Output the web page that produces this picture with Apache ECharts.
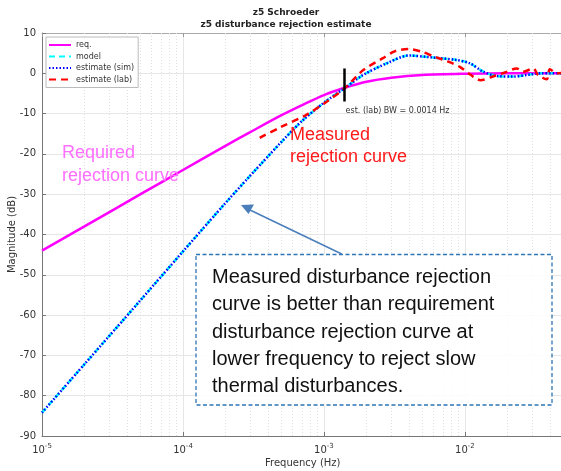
<!DOCTYPE html>
<html>
<head>
<meta charset="utf-8">
<script src="https://cdn.jsdelivr.net/npm/echarts@6/dist/echarts.min.js"></script>
<style>
html,body{margin:0;padding:0;background:#fff;}
#c{width:561px;height:471px;}
</style>
</head>
<body>
<div id="c"></div>
<script>
// ---- data ----
const freqReq = [1e-5, 2e-5, 5e-5, 1e-4, 2e-4, 3e-4, 5e-4, 7e-4, 1e-3, 1.4e-3, 2e-3, 3e-3, 5e-3, 1e-2, 2e-2, 5e-2];
const magReq  = [-44.0, -38.0, -30.0, -24.0, -18.0, -14.6, -10.4, -7.9, -5.4, -3.6, -2.1, -1.1, -0.4, -0.1, 0, 0];

const freqModel = [1e-5, 2e-5, 5e-5, 1e-4, 2e-4, 3e-4, 5e-4, 7e-4, 1e-3, 1.4e-3, 1.9e-3, 2.8e-3, 4e-3, 5.6e-3, 8.7e-3, 1.08e-2, 1.35e-2, 1.7e-2, 2.2e-2, 2.9e-2, 3.5e-2, 5e-2];
const magModel  = [-84.2, -72.2, -56.3, -44.2, -32.2, -25.4, -17.0, -11.8, -7.3, -3.7, -0.4, 2.5, 4.4, 4.0, 3.3, 2.5, 0.4, -0.7, -0.8, -0.3, 0, 0];

const freqSim = [1e-5, 2e-5, 5e-5, 1e-4, 2e-4, 3e-4, 5e-4, 7e-4, 1e-3, 1.4e-3, 1.9e-3, 2.8e-3, 4e-3, 5.6e-3, 8.7e-3, 1.08e-2, 1.35e-2, 1.7e-2, 2.2e-2, 2.9e-2, 3.5e-2, 5e-2];
const magSim  = [-84.2, -72.2, -56.3, -44.2, -32.2, -25.4, -17.0, -11.8, -7.3, -3.7, -0.4, 2.5, 4.4, 4.0, 3.3, 2.5, 0.4, -0.7, -0.8, -0.3, 0, 0];

const freqLab = [3.5e-4, 4.9e-4, 7.5e-4, 1.05e-3, 1.4e-3, 1.9e-3, 2.6e-3, 3.2e-3, 4.0e-3, 4.9e-3, 6.1e-3, 7.6e-3, 9.2e-3, 1.09e-2, 1.29e-2, 1.58e-2, 1.92e-2, 2.33e-2, 2.59e-2, 3.05e-2, 3.3e-2, 3.8e-2, 4.0e-2, 4.5e-2, 5e-2];
const magLab  = [-16.0, -13.4, -10.3, -7.0, -3.7, 0.8, 3.7, 5.5, 6.0, 5.4, 4.1, 2.9, 1.6, -0.3, -1.7, -0.8, 0.2, 1.2, 0.4, 1.2, -0.4, -1.5, 1.0, 0, 0.2];

const bwFreq = 0.0014;
const bwSpan = [1.2, -7.0];

const minorFreqs = [];
[1e-5, 1e-4, 1e-3, 1e-2].forEach(d => { for (let k = 2; k <= 9; k++) { const f = +(d * k).toPrecision(3); if (f < 0.05) minorFreqs.push(f); } });

const xMin = 1e-5, xMax = 0.05, yMin = -90, yMax = 10, yStep = 10;

function pairs(xs, ys) { return xs.map((x, i) => [x, ys[i]]); }

const FONT = 'DejaVu Sans';
const chart = echarts.init(document.getElementById('c'), null, {renderer: 'canvas'});

const xLabelFmt = function (v) {
  const l = Math.log10(v);
  const e = Math.round(l);
  if (Math.abs(l - e) > 1e-6) return '';
  return '{b|10}{s|' + e + '}';
};

const option = {
  animation: false,
  backgroundColor: '#ffffff',
  title: [
    {text: 'z5 Schroeder', left: 281, top: 3, textAlign: 'center',
     textStyle: {fontFamily: FONT, fontSize: 9, fontWeight: 'bold', color: '#222'}},
    {text: 'z5 disturbance rejection estimate', left: 281, top: 15, textAlign: 'center',
     textStyle: {fontFamily: FONT, fontSize: 9, fontWeight: 'bold', color: '#222'}}
  ],
  legend: {
    orient: 'vertical', left: 46, top: 37,
    backgroundColor: '#fff', borderColor: '#bbb', borderWidth: 1,
    padding: [4, 4, 4, 2], itemWidth: 22, itemHeight: 8, itemGap: 3.5,
    itemStyle: {opacity: 0},
    textStyle: {fontFamily: FONT, fontSize: 8, color: '#333'},
    data: ['req.', 'model', 'estimate (sim)', 'estimate (lab)']
  },
  grid: {left: 42, top: 33, width: 521.5, height: 403, containLabel: false, outerBoundsMode: 'none'},
  xAxis: [{
    type: 'log', logBase: 10, min: xMin, max: xMax,
    name: 'Frequency (Hz)', nameLocation: 'middle', nameGap: 22, nameMoveOverlap: false,
    nameTextStyle: {fontFamily: FONT, fontSize: 10, color: '#333'},
    axisLine: {onZero: false, lineStyle: {color: '#777'}},
    axisTick: {inside: true, length: 4, lineStyle: {color: '#777'}},
    axisLabel: {formatter: xLabelFmt, margin: 7, color: '#333',
      rich: {b: {fontFamily: FONT, fontSize: 10, color: '#333'},
             s: {fontFamily: FONT, fontSize: 7, color: '#333', padding: [0, 0, 7, 0]}}},
    splitLine: {show: true, lineStyle: {color: '#e6e6e6', width: 1}}
  }, {
    type: 'log', logBase: 10, min: xMin, max: xMax, position: 'top',
    axisLine: {onZero: false, lineStyle: {color: '#aaa'}},
    axisTick: {inside: true, length: 4, lineStyle: {color: '#999'}},
    axisLabel: {show: false}, splitLine: {show: false}
  }],
  yAxis: {
    type: 'value', min: yMin, max: yMax, interval: yStep,
    name: 'Magnitude (dB)', nameLocation: 'middle', nameGap: 25, nameMoveOverlap: false,
    nameTextStyle: {fontFamily: FONT, fontSize: 10, color: '#333'},
    axisLine: {show: true, onZero: false, lineStyle: {color: '#777'}},
    axisTick: {show: true, inside: true, length: 4, lineStyle: {color: '#777'}},
    axisLabel: {fontFamily: FONT, fontSize: 10, color: '#333', margin: 6},
    splitLine: {show: true, lineStyle: {color: '#e6e6e6', width: 1}}
  },
  series: [
    {
      name: 'minor-grid', type: 'lines', coordinateSystem: 'cartesian2d', silent: true,
      polyline: false, z: 1,
      lineStyle: {color: '#e0e0e0', type: [1, 2], width: 1, opacity: 1},
      data: minorFreqs.map(f => ({coords: [[f, yMin], [f, yMax]]}))
    },
    {
      name: 'req.', type: 'line', data: pairs(freqReq, magReq), smooth: 0.3,
      symbol: 'none', showSymbol: false, color: '#ff00ff',
      lineStyle: {color: '#ff00ff', width: 2.5}
    },
    {
      name: 'model', type: 'line', data: pairs(freqModel, magModel), smooth: 0.3,
      symbol: 'none', showSymbol: false, color: '#00ffff',
      lineStyle: {color: '#00ffff', width: 2.5, type: [6, 4]}
    },
    {
      name: 'estimate (sim)', type: 'line', data: pairs(freqSim, magSim), smooth: 0.3,
      symbol: 'none', showSymbol: false, color: '#0000ff',
      lineStyle: {color: '#0000ff', width: 2.5, type: [1.5, 2]}
    },
    {
      name: 'estimate (lab)', type: 'line', data: pairs(freqLab, magLab), smooth: 0.3,
      symbol: 'none', showSymbol: false, color: '#ff0000',
      lineStyle: {color: '#ff0000', width: 2.5, type: [7, 5]},
      markLine: {
        silent: true, symbol: ['none', 'none'], label: {show: false},
        lineStyle: {color: '#000', type: 'solid', width: 2.5},
        data: [[{coord: [bwFreq, bwSpan[0]]}, {coord: [bwFreq, bwSpan[1]]}]]
      }
    }
  ]
};
chart.setOption(option);

const bwPos = chart.convertToPixel({xAxisIndex: 0, yAxisIndex: 0}, [bwFreq, bwSpan[1]]);
const arrowColor = '#4a7ebb';
chart.setOption({
  graphic: [
    {type: 'text', left: bwPos[0] + 1, top: bwPos[1] + 5, z: 20,
     style: {text: 'est. (lab) BW = 0.0014 Hz', fontFamily: FONT, fontSize: 8, fill: '#333'}},
    {type: 'text', left: 62, top: 142, z: 20,
     style: {text: 'Required\nrejection curve', fontFamily: 'Liberation Sans', fontSize: 18, lineHeight: 23, fill: '#ff6eff'}},
    {type: 'text', left: 290, top: 124, z: 20,
     style: {text: 'Measured\nrejection curve', fontFamily: 'Liberation Sans', fontSize: 18, lineHeight: 22, fill: '#ff1a1a'}},
    {type: 'rect', z: 20, shape: {x: 196, y: 254.5, width: 356, height: 150.5},
     style: {fill: 'rgba(255,255,255,0.85)', stroke: '#2e75b6', lineWidth: 1.3, lineDash: [4, 2.5]}},
    {type: 'text', left: 212, top: 264, z: 21,
     style: {text: 'Measured disturbance rejection\ncurve is better than requirement\ndisturbance rejection curve at\nlower frequency to reject slow\nthermal disturbances.',
             fontFamily: 'Liberation Sans', fontSize: 20, lineHeight: 27.2, fill: '#111'}},
    {type: 'line', z: 20, shape: {x1: 341.7, y1: 254, x2: 250, y2: 210},
     style: {stroke: arrowColor, lineWidth: 1.5}},
    {type: 'polygon', z: 20, shape: {points: [[241, 205], [254, 204.5], [248.5, 214]]},
     style: {fill: arrowColor}}
  ]
});
</script>
</body>
</html>
